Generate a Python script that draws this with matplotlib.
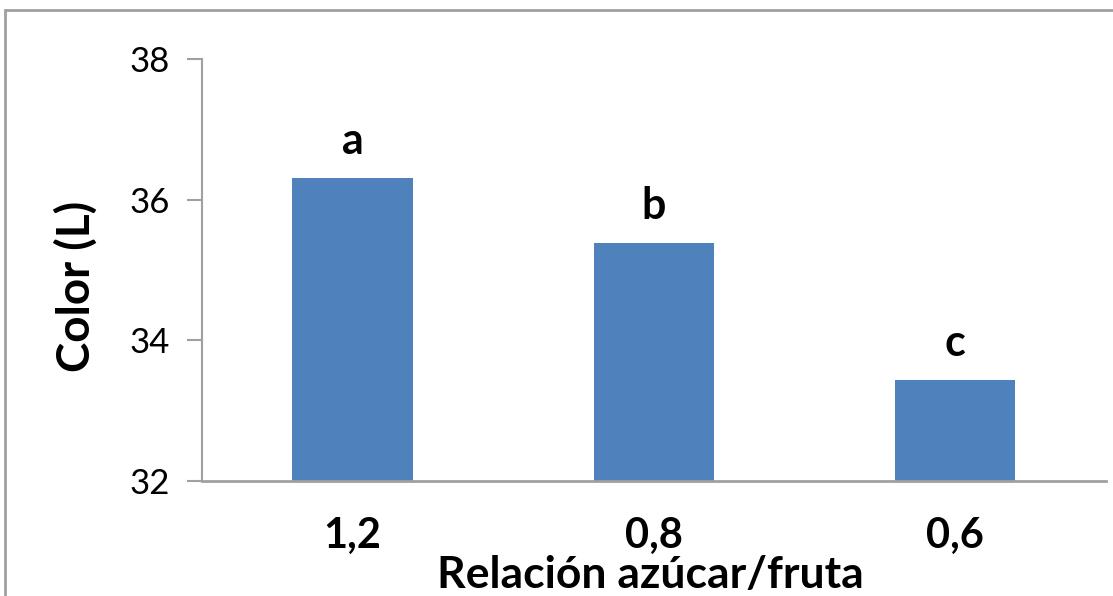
import matplotlib
matplotlib.use("Agg")
import matplotlib.pyplot as plt
from matplotlib.patches import Rectangle

categorias = ["1,2", "0,8", "0,6"]
color_L = [36.31, 35.38, 33.44]
letras = ["a", "b", "c"]
yticks = [32, 34, 36, 38]

plt.rcParams['font.family'] = ['Lato', 'DejaVu Sans']

fig = plt.figure(figsize=(11.13, 5.96), dpi=100)
ax = fig.add_axes([0.1815, 0.193, 0.812, 0.708])

x = range(len(categorias))
ax.bar(x, color_L, width=0.4, color="#4f81bd")
for i, v in enumerate(color_L):
    ax.text(i, v + 0.24, letras[i], ha="center", va="bottom", fontsize=31, fontweight="bold")

ax.set_ylim(32, 38)
ax.set_xlim(-0.5, 2.5)
ax.set_yticks(yticks)
ax.set_yticklabels([str(t) for t in yticks], fontsize=25)
ax.set_xticks(list(x))
ax.set_xticklabels(categorias, fontsize=30, fontweight="bold")
ax.tick_params(axis="x", length=0, pad=26)
ax.tick_params(axis="y", length=11, width=1.5, color="#a0a0a0", pad=12)

for s in ["top", "right"]:
    ax.spines[s].set_visible(False)
ax.spines["left"].set_color("#a0a0a0")
ax.spines["bottom"].set_color("#a0a0a0")
ax.spines["left"].set_linewidth(1.5)
ax.spines["bottom"].set_linewidth(2)

ax.set_ylabel("Color (L)", fontsize=33, fontweight="bold")
ax.yaxis.set_label_coords(-0.115, 0.46)
ax.set_xlabel("Relación azúcar/fruta", fontsize=32, fontweight="bold", va="center")
ax.xaxis.set_label_coords(0.496, -0.223)

# marco del grafico
fig.patches.append(Rectangle((0.0045, -0.1), 1.2, 1.083, transform=fig.transFigure,
                             fill=False, edgecolor="#a0a0a0", linewidth=2))

fig.savefig("out.png", dpi=100)
